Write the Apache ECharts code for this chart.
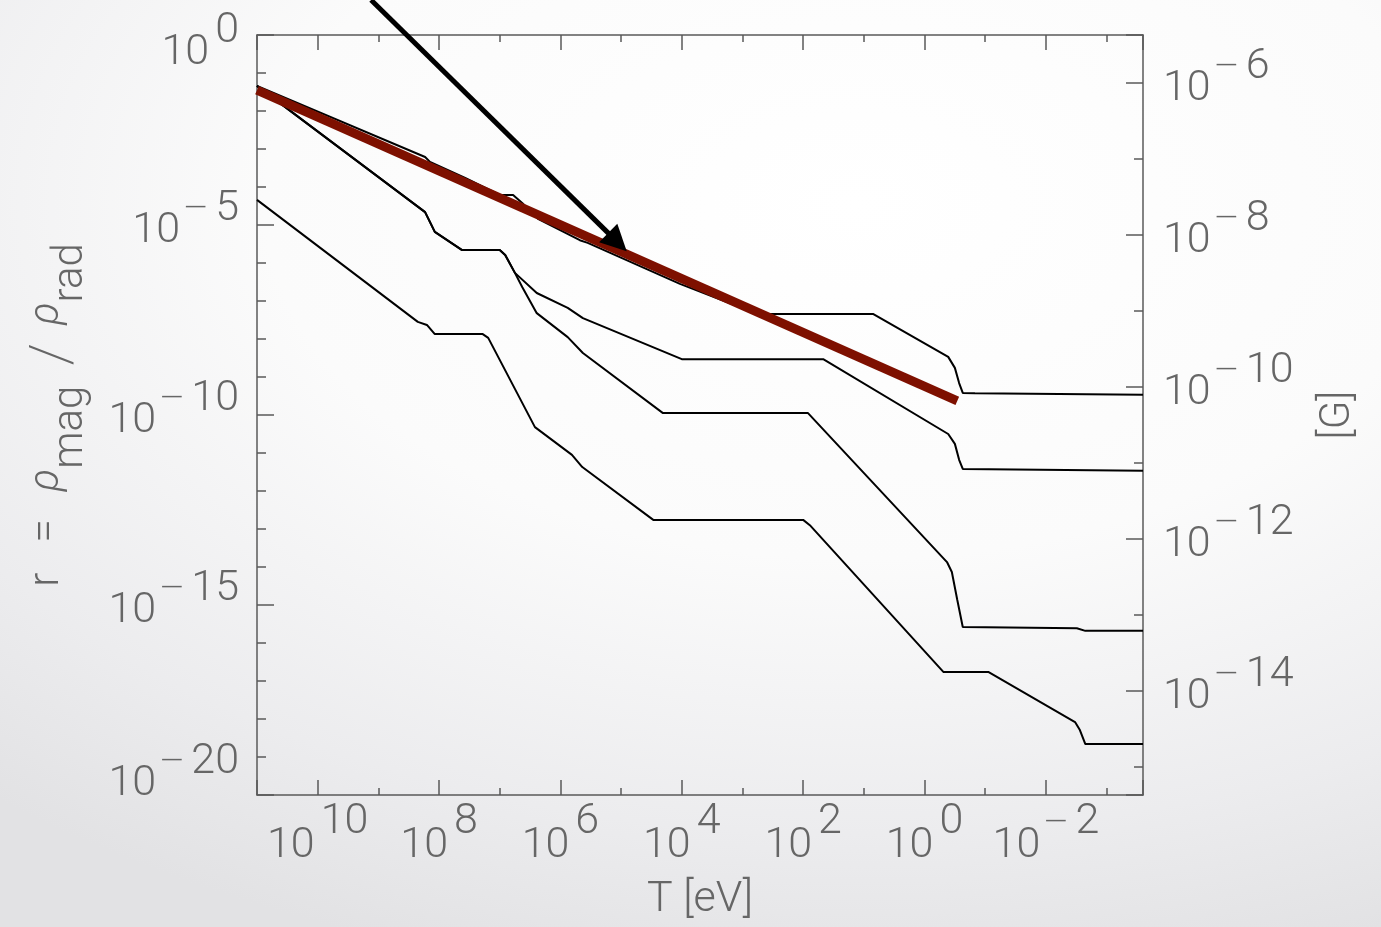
<!DOCTYPE html>
<html>
<head>
<meta charset="utf-8">
<script src="https://cdn.jsdelivr.net/npm/echarts@6/dist/echarts.min.js"></script>
<style>
  html, body { margin: 0; padding: 0; }
  body {
    width: 1381px; height: 927px; overflow: hidden;
    background: radial-gradient(ellipse 95% 85% at 62% 22%, #ffffff 0%, #fbfbfb 45%, #ececee 80%, #e2e2e4 100%);
  }
  #main { width: 1381px; height: 927px; }
</style>
</head>
<body>
<div id="main"></div>
<script>
// all values are exponents: log10(T / eV) and log10(r)
var xTickExps = [10, 8, 6, 4, 2, 0, -2];
var rTickExps = [0, -5, -10, -15, -20];
var bTickExps = [-6, -8, -10, -12, -14];
var bOffset = -5.37;   // log10(B/G) = log10(r)/2 + bOffset

var curveA = [[11.0, -1.34], [8.23, -3.21], [8.15, -3.34], [7.57, -3.76], [7.0, -4.21], [6.78, -4.21],
  [6.63, -4.42], [6.37, -4.84], [5.68, -5.40], [5.55, -5.47], [4.03, -6.55], [2.76, -7.34],
  [0.85, -7.34], [-0.39, -8.47], [-0.50, -8.76], [-0.57, -9.16], [-0.63, -9.42], [-0.83, -9.43], [-3.6, -9.47]];
var curveB = [[11.0, -1.34], [8.23, -4.66], [8.07, -5.18], [7.62, -5.66], [7.0, -5.66], [6.91, -5.79],
  [6.75, -6.26], [6.39, -6.79], [5.88, -7.18], [5.63, -7.45], [4.0, -8.53], [1.67, -8.53],
  [-0.39, -10.5], [-0.50, -10.76], [-0.57, -11.18], [-0.63, -11.42], [-3.6, -11.47]];
var curveC = [[11.0, -1.34], [8.23, -4.66], [8.07, -5.18], [7.62, -5.66], [7.0, -5.66], [6.91, -5.79],
  [6.75, -6.26], [6.63, -6.63], [6.39, -7.32], [5.88, -7.95], [5.63, -8.37], [4.31, -9.95], [1.92, -9.95],
  [-0.37, -13.87], [-0.45, -14.13], [-0.54, -14.87], [-0.63, -15.58], [-2.51, -15.61], [-2.65, -15.68], [-3.6, -15.68]];
var curveD = [[11.0, -4.34], [8.35, -7.55], [8.2, -7.63], [8.07, -7.87], [7.28, -7.87], [7.19, -7.97],
  [6.42, -10.32], [5.81, -11.05], [5.64, -11.37], [4.47, -12.76], [2.0, -12.76], [1.89, -12.9],
  [-0.31, -16.76], [-1.05, -16.76], [-2.48, -18.08], [-2.56, -18.29], [-2.65, -18.66], [-3.6, -18.66]];
var fitLine = [[11.0, -1.45], [-0.54, -9.63]];
var arrowLine = [[9.12, 0.92], [5.06, -5.45]];

var FONT = 'Roboto';
var TXT = '#666666';
var AX = '#5a5a5a';

function sty(extra) {
  var s = { fontFamily: FONT, fontWeight: 300, fontSize: 43, color: TXT };
  for (var k in extra) s[k] = extra[k];
  return s;
}

// rich styles for 10^n labels; shift moves the whole label up/down
function richY() {
  var shifts = { n: 6, t: 18, u: -11 };
  var r = {};
  for (var k in shifts) {
    var sh = shifts[k];
    r['b' + k] = sty({ lineHeight: 131, padding: sh >= 0 ? [2 * sh, 0, 0, 0] : [0, 0, -2 * sh, 0] });
    r['d' + k] = sty({ fontSize: 30, verticalAlign: 'top', padding: [29 + sh, 8, 0, 4] });
    r['s' + k] = sty({ verticalAlign: 'top', padding: [22 + sh, 0, 0, 6] });
    r['e' + k] = sty({ verticalAlign: 'top', padding: [22 + sh, 0, 0, 0] });
  }
  return r;
}
function richX() {
  return {
    bn: sty({ lineHeight: 91 }),
    dn: sty({ fontSize: 30, verticalAlign: 'top', padding: [7, 8, 0, 4] }),
    sn: sty({ verticalAlign: 'top', padding: [0, 0, 0, 6] }),
    en: sty({ verticalAlign: 'top', padding: [0, 0, 0, 0] })
  };
}
function powLabel(e, k) {
  if (e < 0) return '{b' + k + '|10}{d' + k + '|\u2014}{e' + k + '|' + (-e) + '}';
  return '{b' + k + '|10}{s' + k + '|' + e + '}';
}
function pick(list, v) {
  var e = Math.round(v);
  if (Math.abs(v - e) > 1e-6) return null;
  return list.indexOf(e) >= 0 ? e : null;
}

var tickLine = { color: AX, width: 1.5 };
function frameX(pos, labels) {
  return {
    type: 'value', position: pos, inverse: true, min: -3.6, max: 11,
    minInterval: 2, maxInterval: 2,
    axisLine: { show: true, onZero: false, lineStyle: { color: AX, width: 1.5 } },
    axisTick: { inside: true, length: 15, lineStyle: tickLine },
    minorTick: { show: true, splitNumber: 2, length: 7, lineStyle: tickLine },
    splitLine: { show: false },
    axisLabel: labels ? {
      margin: 6, showMinLabel: true, showMaxLabel: true,
      formatter: function (v) { var e = pick(xTickExps, v); return e === null ? '' : powLabel(e, 'n'); },
      rich: richX()
    } : { show: false }
  };
}

var chart = echarts.init(document.getElementById('main'), null, { renderer: 'canvas' });
var option = {
  animation: false,
  backgroundColor: 'transparent',
  grid: { left: 257, right: 238, top: 35, bottom: 132, containLabel: false, outerBoundsMode: 'none' },
  xAxis: [
    (function () {
      var a = frameX('bottom', true);
      a.name = 'T [eV]';
      a.nameLocation = 'middle';
      a.nameGap = 80;
      a.nameTextStyle = sty({ lineHeight: 50 });
      return a;
    })(),
    frameX('top', false)
  ],
  yAxis: [
    {
      type: 'value', position: 'left', min: -20, max: 0, interval: 5,
      axisLine: { show: true, onZero: false, lineStyle: { color: AX, width: 1.5 } },
      axisTick: { inside: true, length: 17, lineStyle: tickLine },
      minorTick: { show: true, splitNumber: 5, length: 9, lineStyle: tickLine },
      splitLine: { show: false },
      axisLabel: {
        margin: 18, showMinLabel: true, showMaxLabel: true,
        formatter: function (v) {
          var e = pick(rTickExps, v);
          if (e === null) return '';
          return powLabel(e, e === 0 ? 't' : (e === -20 ? 'u' : 'n'));
        },
        rich: richY()
      },
      name: '{n|r}{q|=}{g|\u03c1}{sub|mag}{sl|/}{g2|\u03c1}{sub|rad}',
      nameLocation: 'middle',
      nameRotate: 90,
      nameGap: 165,
      nameTextStyle: {
        rich: {
          n: sty({ fontSize: 42, verticalAlign: 'top' }),
          q: sty({ fontSize: 42, verticalAlign: 'top', padding: [0, 0, 0, 30] }),
          g: sty({ fontSize: 42, fontStyle: 'italic', verticalAlign: 'top', padding: [0, 0, 0, 28] }),
          g2: sty({ fontSize: 42, fontStyle: 'italic', verticalAlign: 'top', padding: [0, 0, 0, 18] }),
          sl: sty({ fontSize: 58, fontWeight: 200, verticalAlign: 'top', padding: [0, 0, 0, 20] }),
          sub: sty({ fontSize: 42, verticalAlign: 'bottom', lineHeight: 66 })
        }
      }
    },
    {
      type: 'value', position: 'right', min: -15.37, max: -5.37,
      minInterval: 2, maxInterval: 2,
      axisLine: { show: true, onZero: false, lineStyle: { color: AX, width: 1.5 } },
      axisTick: { inside: true, length: 17, lineStyle: tickLine },
      minorTick: { show: true, splitNumber: 2, length: 9, lineStyle: tickLine },
      splitLine: { show: false },
      axisLabel: {
        margin: 20, showMinLabel: true, showMaxLabel: true,
        formatter: function (v) { var e = pick(bTickExps, v); return e === null ? '' : powLabel(e, 'n'); },
        rich: richY()
      },
      name: '[G]',
      nameLocation: 'middle',
      nameRotate: 90,
      nameGap: 170,
      nameTextStyle: sty({ fontSize: 42, lineHeight: 50 })
    }
  ],
  series: [curveA, curveB, curveC, curveD].map(function (d) {
    return {
      type: 'line', data: d, showSymbol: false, symbol: 'none',
      lineStyle: { color: '#000', width: 2 }, z: 2
    };
  }).concat([
    {
      type: 'line', data: fitLine, showSymbol: false, symbol: 'none',
      lineStyle: { color: '#7e1000', width: 9, cap: 'butt' }, z: 3
    },
    {
      type: 'lines', coordinateSystem: 'cartesian2d', clip: false, z: 4,
      symbol: ['none', 'triangle'], symbolSize: 26,
      lineStyle: { color: '#000', width: 5, opacity: 1, curveness: 0 },
      itemStyle: { color: '#000' },
      data: [{ coords: arrowLine }]
    }
  ])
};
chart.setOption(option);
</script>
</body>
</html>
